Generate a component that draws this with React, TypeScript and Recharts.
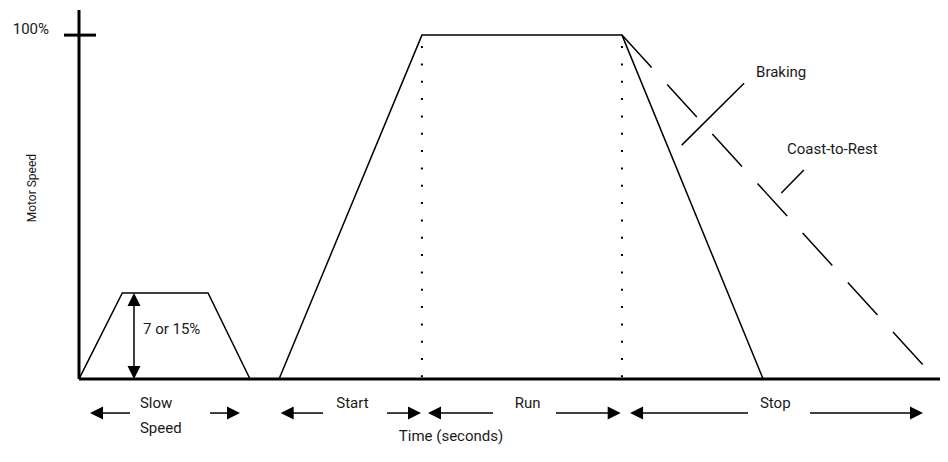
import React from 'react';
import { LineChart, Line, XAxis, YAxis, ReferenceLine, ReferenceDot } from 'recharts';

const FONT = "Roboto, 'DejaVu Sans', sans-serif";
const TEXT_SIZE = 15;

// Axes
const X_DOMAIN: [number, number] = [0, 100];
const Y_DOMAIN: [number, number] = [0, 107.3];
const yTicks = [100];
const yTickLabels = ['100%'];

// Speed profile (time %, speed %)
const speedTimes = [0, 5, 14.9, 19.75, 23.1, 39.6, 62.7, 79, 100];
const speedValues = [0, 25, 25, 0, 0, 100, 100, 0, 0];

// Coast-to-rest profile
const coastTimes = [62.7, 97.46];
const coastValues = [100, 4.1];

// Phase boundaries (dotted)
const phaseBoundaries = [39.6, 62.7];

// Bottom phase arrows: [from, to]
const phaseArrowY = -9.9;
const phaseArrowFrom = [5.89, 15.13, 28.18, 35.57, 47.81, 55.08, 77.25, 84.41];
const phaseArrowTo = [1.27, 18.59, 23.29, 39.49, 40.3, 62.55, 63.63, 97.46];

// Phase labels
const phaseLabels = ['Start', 'Run', 'Stop'];
const phaseLabelX = [31.58, 51.8, 80.4];
const phaseLabelY = -6.98;
const slowLabels = ['Slow', 'Speed'];
const slowLabelX = 7.04;
const slowLabelY = [-6.98, -14.24];

// Slow speed level arrow
const slowArrowX = 6.35;
const slowLevel = 25;
const slowLevelText = '7 or 15%';
const slowTextPos = { x: 7.39, y: 14.53 };

// Annotations
const annotationTexts = ['Braking', 'Coast-to-Rest'];
const annotationX = [78.18, 81.76];
const annotationY = [89.24, 66.86];
const leaderFrom = [{ x: 69.6, y: 68.0 }, { x: 81.1, y: 54.1 }];
const leaderTo = [{ x: 76.8, y: 86.0 }, { x: 83.7, y: 60.8 }];

// Axis titles
const xTitle = 'Time (seconds)';
const xTitlePos = { x: 42.96, y: -16.57 };
const yTitle = 'Motor Speed';
const yTitlePos = { x: -5.43, y: 55.5 };

const speedData = speedTimes.map((t, i) => ({ t, v: speedValues[i] }));
const coastData = coastTimes.map((t, i) => ({ t, v: coastValues[i] }));

const HEAD_LEN = 13;
const HEAD_HALF = 6.5;

function head(x: number, y: number, ux: number, uy: number) {
  const bx = x - ux * HEAD_LEN;
  const by = y - uy * HEAD_LEN;
  const px = -uy * HEAD_HALF;
  const py = ux * HEAD_HALF;
  return `${x},${y} ${bx + px},${by + py} ${bx - px},${by - py}`;
}

const arrowShape = (both: boolean) => (p: any) => {
  const { x1, y1, x2, y2 } = p;
  const dx = x2 - x1;
  const dy = y2 - y1;
  const len = Math.sqrt(dx * dx + dy * dy) || 1;
  const ux = dx / len;
  const uy = dy / len;
  const sx = both ? x1 + ux * (HEAD_LEN - 1) : x1;
  const sy = both ? y1 + uy * (HEAD_LEN - 1) : y1;
  const ex = x2 - ux * (HEAD_LEN - 1);
  const ey = y2 - uy * (HEAD_LEN - 1);
  return (
    <g>
      <line x1={sx} y1={sy} x2={ex} y2={ey} stroke="#000" strokeWidth={1.5} />
      <polygon points={head(x2, y2, ux, uy)} fill="#000" />
      {both && <polygon points={head(x1, y1, -ux, -uy)} fill="#000" />}
    </g>
  );
};

const textShape = (value: string, anchor: string, size: number, rotate = false) => (p: any) => (
  <text
    x={p.cx}
    y={p.cy}
    textAnchor={anchor}
    dominantBaseline="central"
    fontFamily={FONT}
    fontSize={size}
    fill="#1a1a1a"
    transform={rotate ? `rotate(-90 ${p.cx} ${p.cy})` : undefined}
  >
    {value}
  </text>
);

const YTick = (props: any) => {
  const { x, y, payload } = props;
  const idx = yTicks.indexOf(payload.value);
  return (
    <g>
      <line x1={x - 15} x2={x + 17} y1={y} y2={y} stroke="#000" strokeWidth={3} />
      <text
        x={x - 30}
        y={y - 6}
        textAnchor="end"
        dominantBaseline="central"
        fontFamily={FONT}
        fontSize={TEXT_SIZE}
        fill="#1a1a1a"
      >
        {yTickLabels[idx]}
      </text>
    </g>
  );
};

export default function App() {
  return (
    <div style={{ width: 940, height: 454 }}>
      <LineChart width={940} height={454} margin={{ top: 2, right: 3, bottom: 0, left: 0 }}>
        <XAxis
          type="number"
          dataKey="t"
          domain={X_DOMAIN}
          allowDataOverflow
          tick={false}
          tickLine={false}
          axisLine={{ stroke: '#000', strokeWidth: 3 }}
          height={83}
        />
        <YAxis
          type="number"
          domain={Y_DOMAIN}
          allowDataOverflow
          ticks={yTicks}
          tick={<YTick />}
          tickLine={false}
          tickSize={0}
          tickMargin={0}
          axisLine={{ stroke: '#000', strokeWidth: 3 }}
          width={71}
        />
        {phaseBoundaries.map((x) => (
          <ReferenceLine
            key={`pb-${x}`}
            segment={[{ x, y: 100 }, { x, y: 0 }]}
            stroke="#000"
            strokeWidth={2}
            strokeDasharray="2 15.33"
            strokeDashoffset={6.33}
            ifOverflow="visible"
          />
        ))}
        <Line
          data={speedData}
          dataKey="v"
          type="linear"
          stroke="#000"
          strokeWidth={1.5}
          dot={false}
          activeDot={false}
          isAnimationActive={false}
        />
        <Line
          data={coastData}
          dataKey="v"
          type="linear"
          stroke="#000"
          strokeWidth={1.5}
          strokeDasharray="44 23"
          dot={false}
          activeDot={false}
          isAnimationActive={false}
        />
        <ReferenceLine
          segment={[{ x: slowArrowX, y: slowLevel }, { x: slowArrowX, y: 0 }]}
          shape={arrowShape(true)}
          ifOverflow="visible"
        />
        {phaseArrowFrom.map((from, i) => (
          <ReferenceLine
            key={`pa-${i}`}
            segment={[{ x: from, y: phaseArrowY }, { x: phaseArrowTo[i], y: phaseArrowY }]}
            shape={arrowShape(false)}
            ifOverflow="visible"
          />
        ))}
        {leaderFrom.map((f, i) => (
          <ReferenceLine
            key={`ld-${i}`}
            segment={[f, leaderTo[i]]}
            stroke="#000"
            strokeWidth={1.5}
            ifOverflow="visible"
          />
        ))}
        {annotationTexts.map((t, i) => (
          <ReferenceDot
            key={`an-${i}`}
            x={annotationX[i]}
            y={annotationY[i]}
            r={1}
            ifOverflow="visible"
            shape={textShape(t, 'start', TEXT_SIZE)}
          />
        ))}
        <ReferenceDot
          x={slowTextPos.x}
          y={slowTextPos.y}
          r={1}
          ifOverflow="visible"
          shape={textShape(slowLevelText, 'start', TEXT_SIZE)}
        />
        {phaseLabels.map((t, i) => (
          <ReferenceDot
            key={`pl-${i}`}
            x={phaseLabelX[i]}
            y={phaseLabelY}
            r={1}
            ifOverflow="visible"
            shape={textShape(t, 'middle', TEXT_SIZE)}
          />
        ))}
        {slowLabels.map((t, i) => (
          <ReferenceDot
            key={`sl-${i}`}
            x={slowLabelX}
            y={slowLabelY[i]}
            r={1}
            ifOverflow="visible"
            shape={textShape(t, 'start', TEXT_SIZE)}
          />
        ))}
        <ReferenceDot
          x={xTitlePos.x}
          y={xTitlePos.y}
          r={1}
          ifOverflow="visible"
          shape={textShape(xTitle, 'middle', TEXT_SIZE)}
        />
        <ReferenceDot
          x={yTitlePos.x}
          y={yTitlePos.y}
          r={1}
          ifOverflow="visible"
          shape={textShape(yTitle, 'middle', 12, true)}
        />
      </LineChart>
    </div>
  );
}
